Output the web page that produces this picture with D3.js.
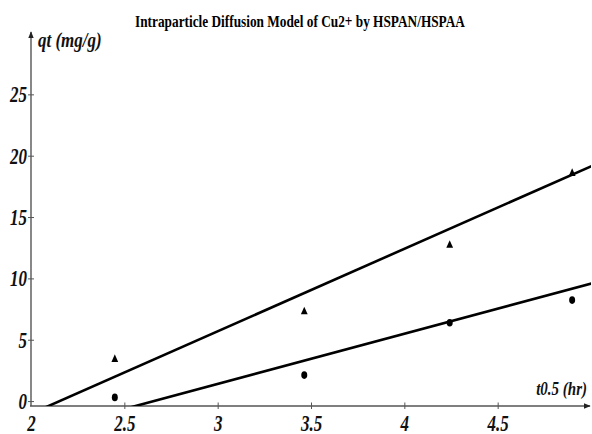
<!DOCTYPE html>
<html>
<head>
<meta charset="utf-8">
<script src="https://cdn.jsdelivr.net/npm/d3@7"></script>
<style>
  html, body { margin: 0; padding: 0; background: #fff; }
  svg { display: block; }
  text { font-family: "Liberation Serif", "Times New Roman", serif; }
</style>
</head>
<body>
<svg id="chart" width="592" height="434"></svg>
<script>
// sqrt(t) in hr^0.5
const sqrtTime = [2.449, 3.464, 4.243, 4.899];
// measured uptake qt (mg/g)
const qtTriangle = [3.4, 7.28, 12.7, 18.56];
const qtCircle = [0.3, 2.12, 6.38, 8.23];
// linear fits: qt = slope * t0.5 + intercept
const fitSlopes = [6.72, 4.09];
const fitIntercepts = [-14.47, -10.87];
const xTicks = [2, 2.5, 3, 3.5, 4, 4.5];
const yTicks = [0, 5, 10, 15, 20, 25];

const title = "Intraparticle Diffusion Model of Cu2+ by HSPAN/HSPAA";
const yTitle = "qt (mg/g)";
const xTitle = "t0.5 (hr)";

const svg = d3.select("#chart");
const x = d3.scaleLinear().domain([2, 5]).range([31, 591]);
const y = d3.scaleLinear().domain([-0.4, 30]).range([406, 33]);
const STRETCH = 1.3;
const axisColor = "#555";
const fmt = d3.format("~g");

// arrowhead for axis ends
const defs = svg.append("defs");
defs.append("marker")
  .attr("id", "arrow")
  .attr("viewBox", "0 0 10 10")
  .attr("refX", 9).attr("refY", 5)
  .attr("markerWidth", 7).attr("markerHeight", 7)
  .attr("markerUnits", "userSpaceOnUse")
  .attr("orient", "auto")
  .append("path").attr("d", "M0,1 L10,5 L0,9 Z").attr("fill", "#222");
defs.append("clipPath").attr("id", "plot")
  .append("rect").attr("x", x(2)).attr("y", y(30))
  .attr("width", x(5) - x(2)).attr("height", y(-0.4) - y(30));

// title
svg.append("text")
  .attr("transform", "translate(300,27) scale(1,1.2)")
  .attr("text-anchor", "middle")
  .attr("font-size", 13.3).attr("font-weight", "bold")
  .attr("fill", "#000")
  .text(title);

// x axis
const xAxis = svg.append("g")
  .attr("transform", `translate(0,${y(-0.4)})`)
  .call(d3.axisBottom(x).tickValues(xTicks).tickFormat(fmt).tickSizeOuter(0).tickSizeInner(0));
xAxis.select(".domain").remove();
xAxis.selectAll(".tick line")
  .attr("y1", -3.5).attr("y2", 3)
  .attr("stroke", axisColor).attr("stroke-width", 1)
  .filter(d => d === 2).remove();
xAxis.selectAll(".tick text")
  .attr("x", null).attr("y", null).attr("dy", null)
  .attr("transform", `translate(0,25) scale(1,${STRETCH})`)
  .attr("font-size", 17).attr("font-style", "italic").attr("font-weight", "bold")
  .attr("fill", "#111");
svg.append("line")
  .attr("x1", x(2) - 1).attr("x2", 590)
  .attr("y1", y(-0.4)).attr("y2", y(-0.4))
  .attr("stroke", axisColor).attr("stroke-width", 1.4)
  .attr("marker-end", "url(#arrow)");

// y axis
const yAxis = svg.append("g")
  .attr("transform", `translate(${x(2)},0)`)
  .call(d3.axisLeft(y).tickValues(yTicks).tickFormat(fmt).tickSizeOuter(0).tickSizeInner(0));
yAxis.select(".domain").remove();
yAxis.selectAll(".tick line")
  .attr("x1", -3).attr("x2", 3)
  .attr("stroke", axisColor).attr("stroke-width", 1);
yAxis.selectAll(".tick text")
  .attr("x", null).attr("y", null).attr("dy", null)
  .attr("text-anchor", "end")
  .attr("transform", `translate(-4,7.5) scale(1,${STRETCH})`)
  .attr("font-size", 17).attr("font-style", "italic").attr("font-weight", "bold")
  .attr("fill", "#111");
svg.append("line")
  .attr("x1", x(2)).attr("x2", x(2))
  .attr("y1", y(-0.4)).attr("y2", 32)
  .attr("stroke", axisColor).attr("stroke-width", 1.4)
  .attr("marker-end", "url(#arrow)");

// axis titles
svg.append("text")
  .attr("transform", `translate(38,47) scale(1,1.2)`)
  .attr("font-size", 17).attr("font-style", "italic").attr("font-weight", "bold")
  .attr("fill", "#111")
  .text(yTitle);
svg.append("text")
  .attr("text-anchor", "end")
  .attr("transform", `translate(587,395) scale(1,1.25)`)
  .attr("font-size", 15).attr("font-style", "italic").attr("font-weight", "bold")
  .attr("fill", "#111")
  .text(xTitle);

// fitted lines
const plot = svg.append("g").attr("clip-path", "url(#plot)");
fitSlopes.forEach((m, i) => {
  const b = fitIntercepts[i];
  const xs = [1.9, 5.1];
  plot.append("line")
    .attr("x1", x(xs[0])).attr("y1", y(m * xs[0] + b))
    .attr("x2", x(xs[1])).attr("y2", y(m * xs[1] + b))
    .attr("stroke", "#000").attr("stroke-width", 2.6);
});

// data markers
svg.append("g").selectAll("path")
  .data(sqrtTime.map((t, i) => [t, qtTriangle[i]]))
  .join("path")
  .attr("transform", d => `translate(${x(d[0])},${y(d[1])}) scale(1,1.3)`)
  .attr("d", d3.symbol(d3.symbolTriangle, 20))
  .attr("fill", "#000");
svg.append("g").selectAll("ellipse")
  .data(sqrtTime.map((t, i) => [t, qtCircle[i]]))
  .join("ellipse")
  .attr("cx", d => x(d[0])).attr("cy", d => y(d[1]))
  .attr("rx", 3).attr("ry", 3.8)
  .attr("fill", "#000");
</script>
</body>
</html>
